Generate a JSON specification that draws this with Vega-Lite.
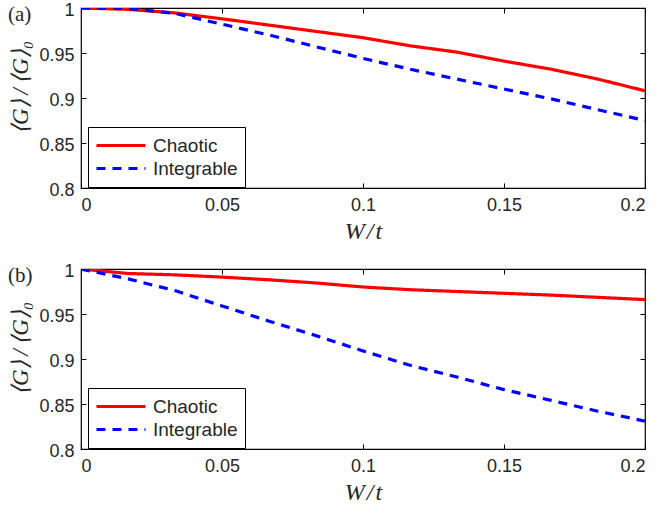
{
  "$schema": "https://vega.github.io/schema/vega-lite/v6.json",
  "background": "white",
  "padding": {"left": 7, "top": 0, "right": 0, "bottom": 0},
  "spacing": 17,
  "config": {
    "view": {"stroke": "#000", "strokeWidth": 1.2},
    "axis": {"grid": false, "domain": false, "tickSize": -5, "tickColor": "#000", "tickWidth": 1, "labelFont": "Liberation Sans", "labelFontSize": 18, "labelColor": "#262626", "titleColor": "#262626", "titleFont": "Liberation Serif", "titleFontWeight": "normal", "titleFontStyle": "italic"},
    "title": {"font": "Liberation Serif", "fontSize": 21, "fontWeight": "normal", "color": "#262626"},
    "legend": {"labelFont": "Liberation Sans", "labelFontSize": 19, "labelColor": "#262626"}
  },
  "datasets": {
    "a": [
      {"W": 0, "G": 1.0, "model": "Chaotic"},
      {"W": 0.0167, "G": 0.9985, "model": "Chaotic"},
      {"W": 0.0333, "G": 0.9945, "model": "Chaotic"},
      {"W": 0.05, "G": 0.988, "model": "Chaotic"},
      {"W": 0.0667, "G": 0.981, "model": "Chaotic"},
      {"W": 0.0833, "G": 0.974, "model": "Chaotic"},
      {"W": 0.1, "G": 0.967, "model": "Chaotic"},
      {"W": 0.1167, "G": 0.958, "model": "Chaotic"},
      {"W": 0.1333, "G": 0.951, "model": "Chaotic"},
      {"W": 0.15, "G": 0.941, "model": "Chaotic"},
      {"W": 0.1667, "G": 0.932, "model": "Chaotic"},
      {"W": 0.1833, "G": 0.921, "model": "Chaotic"},
      {"W": 0.2, "G": 0.908, "model": "Chaotic"},
      {"W": 0, "G": 1.0, "model": "Integrable"},
      {"W": 0.0167, "G": 0.9995, "model": "Integrable"},
      {"W": 0.0333, "G": 0.994, "model": "Integrable"},
      {"W": 0.05, "G": 0.982, "model": "Integrable"},
      {"W": 0.0667, "G": 0.97, "model": "Integrable"},
      {"W": 0.0833, "G": 0.957, "model": "Integrable"},
      {"W": 0.1, "G": 0.944, "model": "Integrable"},
      {"W": 0.1167, "G": 0.932, "model": "Integrable"},
      {"W": 0.1333, "G": 0.921, "model": "Integrable"},
      {"W": 0.15, "G": 0.91, "model": "Integrable"},
      {"W": 0.1667, "G": 0.899, "model": "Integrable"},
      {"W": 0.1833, "G": 0.887, "model": "Integrable"},
      {"W": 0.2, "G": 0.875, "model": "Integrable"}
    ],
    "b": [
      {"W": 0, "G": 1.0, "model": "Chaotic"},
      {"W": 0.0167, "G": 0.995, "model": "Chaotic"},
      {"W": 0.0333, "G": 0.9935, "model": "Chaotic"},
      {"W": 0.05, "G": 0.991, "model": "Chaotic"},
      {"W": 0.0667, "G": 0.988, "model": "Chaotic"},
      {"W": 0.0833, "G": 0.9845, "model": "Chaotic"},
      {"W": 0.1, "G": 0.98, "model": "Chaotic"},
      {"W": 0.1167, "G": 0.977, "model": "Chaotic"},
      {"W": 0.1333, "G": 0.975, "model": "Chaotic"},
      {"W": 0.15, "G": 0.973, "model": "Chaotic"},
      {"W": 0.1667, "G": 0.971, "model": "Chaotic"},
      {"W": 0.1833, "G": 0.9685, "model": "Chaotic"},
      {"W": 0.2, "G": 0.966, "model": "Chaotic"},
      {"W": 0, "G": 1.0, "model": "Integrable"},
      {"W": 0.0167, "G": 0.989, "model": "Integrable"},
      {"W": 0.0333, "G": 0.976, "model": "Integrable"},
      {"W": 0.05, "G": 0.959, "model": "Integrable"},
      {"W": 0.0667, "G": 0.942, "model": "Integrable"},
      {"W": 0.0833, "G": 0.926, "model": "Integrable"},
      {"W": 0.1, "G": 0.909, "model": "Integrable"},
      {"W": 0.1167, "G": 0.893, "model": "Integrable"},
      {"W": 0.1333, "G": 0.88, "model": "Integrable"},
      {"W": 0.15, "G": 0.866, "model": "Integrable"},
      {"W": 0.1667, "G": 0.854, "model": "Integrable"},
      {"W": 0.1833, "G": 0.842, "model": "Integrable"},
      {"W": 0.2, "G": 0.831, "model": "Integrable"}
    ]
  },
  "resolve": {"legend": {"color": "independent", "strokeDash": "independent"}},
  "vconcat": [
    {
      "width": 564,
      "height": 180,
      "data": {"name": "a"},
      "title": {"text": "(a)", "anchor": "start", "frame": "group", "offset": -4, "dx": -73, "dy": 20},
      "resolve": {"axis": {"x": "independent", "y": "independent"}},
      "layer": [
        {
          "mark": {"type": "line", "strokeWidth": 3.2, "clip": true},
          "encoding": {
            "x": {"field": "W", "type": "quantitative", "scale": {"domain": [0, 0.2], "nice": false},
              "axis": {"orient": "bottom", "values": [0, 0.05, 0.1, 0.15, 0.2], "format": ".2~f", "labelPadding": 13, "title": "W\u200a/\u200at", "titleFontSize": 24, "titlePadding": 5}},
            "y": {"field": "G", "type": "quantitative", "scale": {"domain": [0.8, 1], "nice": false, "zero": false},
              "axis": {"orient": "left", "values": [0.8, 0.85, 0.9, 0.95, 1], "format": ".2~f", "labelPadding": 12, "labelOffset": 2, "title": "⟨G⟩\u2009/\u2009⟨G⟩₀", "titleFontSize": 23, "titlePadding": 6, "titleY": 79}},
            "color": {"field": "model", "type": "nominal", "scale": {"domain": ["Chaotic", "Integrable"], "range": ["#ff0000", "#0000ff"]},
              "legend": {"title": null, "orient": "none", "legendX": 7, "legendY": 119, "padding": 7, "strokeColor": "#000", "fillColor": "#fff", "symbolType": "stroke", "symbolSize": 2401, "symbolStrokeWidth": 3, "clipHeight": 23, "rowPadding": 0, "labelOffset": 6}},
            "strokeDash": {"field": "model", "type": "nominal", "scale": {"domain": ["Chaotic", "Integrable"], "range": [[1, 0], [9, 7]]},
              "legend": {"title": null, "orient": "none", "legendX": 7, "legendY": 119, "padding": 7, "strokeColor": "#000", "fillColor": "#fff", "symbolType": "stroke", "symbolSize": 2401, "symbolStrokeWidth": 3, "clipHeight": 23, "rowPadding": 0, "labelOffset": 6}}
          }
        },
        {
          "mark": {"type": "line", "opacity": 0},
          "encoding": {
            "x": {"field": "W", "type": "quantitative", "axis": {"orient": "top", "values": [0, 0.05, 0.1, 0.15, 0.2], "labels": false, "title": null}},
            "y": {"field": "G", "type": "quantitative", "axis": {"orient": "right", "values": [0.8, 0.85, 0.9, 0.95, 1], "labels": false, "title": null}},
            "detail": {"field": "model", "type": "nominal"}
          }
        }
      ]
    },
    {
      "width": 564,
      "height": 180,
      "data": {"name": "b"},
      "title": {"text": "(b)", "anchor": "start", "frame": "group", "offset": -4, "dx": -73, "dy": 20},
      "resolve": {"axis": {"x": "independent", "y": "independent"}},
      "layer": [
        {
          "mark": {"type": "line", "strokeWidth": 3.2, "clip": true},
          "encoding": {
            "x": {"field": "W", "type": "quantitative", "scale": {"domain": [0, 0.2], "nice": false},
              "axis": {"orient": "bottom", "values": [0, 0.05, 0.1, 0.15, 0.2], "format": ".2~f", "labelPadding": 13, "title": "W\u200a/\u200at", "titleFontSize": 24, "titlePadding": 5}},
            "y": {"field": "G", "type": "quantitative", "scale": {"domain": [0.8, 1], "nice": false, "zero": false},
              "axis": {"orient": "left", "values": [0.8, 0.85, 0.9, 0.95, 1], "format": ".2~f", "labelPadding": 12, "labelOffset": 2, "title": "⟨G⟩\u2009/\u2009⟨G⟩₀", "titleFontSize": 23, "titlePadding": 6, "titleY": 79}},
            "color": {"field": "model", "type": "nominal", "scale": {"domain": ["Chaotic", "Integrable"], "range": ["#ff0000", "#0000ff"]},
              "legend": {"title": null, "orient": "none", "legendX": 7, "legendY": 119, "padding": 7, "strokeColor": "#000", "fillColor": "#fff", "symbolType": "stroke", "symbolSize": 2401, "symbolStrokeWidth": 3, "clipHeight": 23, "rowPadding": 0, "labelOffset": 6}},
            "strokeDash": {"field": "model", "type": "nominal", "scale": {"domain": ["Chaotic", "Integrable"], "range": [[1, 0], [9, 7]]},
              "legend": {"title": null, "orient": "none", "legendX": 7, "legendY": 119, "padding": 7, "strokeColor": "#000", "fillColor": "#fff", "symbolType": "stroke", "symbolSize": 2401, "symbolStrokeWidth": 3, "clipHeight": 23, "rowPadding": 0, "labelOffset": 6}}
          }
        },
        {
          "mark": {"type": "line", "opacity": 0},
          "encoding": {
            "x": {"field": "W", "type": "quantitative", "axis": {"orient": "top", "values": [0, 0.05, 0.1, 0.15, 0.2], "labels": false, "title": null}},
            "y": {"field": "G", "type": "quantitative", "axis": {"orient": "right", "values": [0.8, 0.85, 0.9, 0.95, 1], "labels": false, "title": null}},
            "detail": {"field": "model", "type": "nominal"}
          }
        }
      ]
    }
  ]
}
